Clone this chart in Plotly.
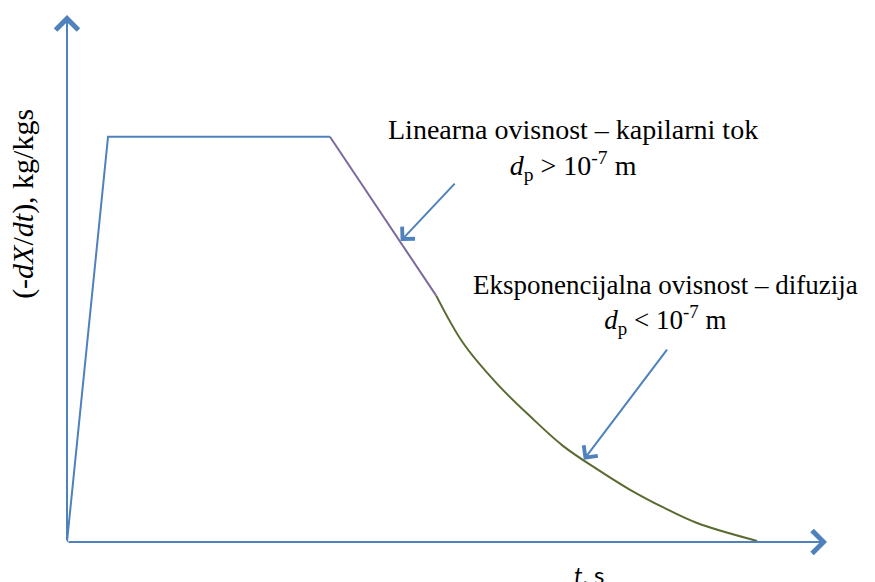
import plotly.graph_objects as go

# drying rate curve (arbitrary units)
t_const = [0.0, 0.54, 3.46]
rate_const = [0.0, 7.69, 7.69]

t_lin = [3.46, 4.86]
rate_lin = [7.69, 4.67]

t_exp = [4.86, 5.21, 5.66, 6.09, 6.53, 7.01, 7.41, 7.84, 8.29, 9.08]
rate_exp = [4.67, 3.78, 3.00, 2.39, 1.82, 1.35, 0.99, 0.66, 0.36, 0.02]

# pointer arrows: tail -> head
arrow_tails = [(5.12, 6.83), (7.91, 3.68)]
arrow_heads = [(4.39, 5.71), (6.80, 1.56)]

blue = "#4F81BD"
serif = "Liberation Serif, Times New Roman, serif"

fig = go.Figure()
fig.add_trace(go.Scatter(x=t_const, y=rate_const, mode="lines",
                         line=dict(color=blue, width=2)))
fig.add_trace(go.Scatter(x=t_lin, y=rate_lin, mode="lines",
                         line=dict(color="#7b6a9c", width=2)))
fig.add_trace(go.Scatter(x=t_exp, y=rate_exp, mode="lines",
                         line=dict(color="#5a6b32", width=2, shape="spline")))

# axes drawn as arrows
for tail, head in [((0, 0), (10, 0)), ((0, 0), (0, 10))]:
    fig.add_annotation(x=head[0], y=head[1], ax=tail[0], ay=tail[1],
                       xref="x", yref="y", axref="x", ayref="y",
                       text="", showarrow=True, arrowhead=4, arrowsize=2.2,
                       arrowwidth=2, arrowcolor=blue)

for tail, head in zip(arrow_tails, arrow_heads):
    fig.add_annotation(x=head[0], y=head[1], ax=tail[0], ay=tail[1],
                       xref="x", yref="y", axref="x", ayref="y",
                       text="", showarrow=True, arrowhead=4, arrowsize=1.7,
                       arrowwidth=2, arrowcolor=blue)

fig.add_annotation(x=6.66, y=7.44, xref="x", yref="y", showarrow=False,
                   text="Linearna ovisnost – kapilarni tok<br><i>d</i><sub>p</sub> &gt; 10<sup>-7</sup> m",
                   font=dict(family=serif, size=28, color="black"), align="center")
fig.add_annotation(x=7.88, y=4.50, xref="x", yref="y", showarrow=False,
                   text="Eksponencijalna ovisnost – difuzija<br><i>d</i><sub>p</sub> &lt; 10<sup>-7</sup> m",
                   font=dict(family=serif, size=27, color="black"), align="center")

fig.add_annotation(x=-0.057, y=0.641, xref="paper", yref="paper", showarrow=False,
                   xanchor="center", yanchor="middle",
                   text="(-<i>dX</i>/<i>dt</i>), kg/kgs", textangle=-90,
                   font=dict(family=serif, size=30, color="black"))
fig.add_annotation(x=0.687, y=-0.062, xref="paper", yref="paper", showarrow=False,
                   xanchor="center", yanchor="middle",
                   text="<i>t</i>, s",
                   font=dict(family="Lato, Open Sans, sans-serif", size=24, color="black"))

fig.update_xaxes(range=[0, 10], visible=False)
fig.update_yaxes(range=[0, 10], visible=False)
# page body adds an 8px offset, so the figure is kept 8px smaller
fig.update_layout(width=867, height=574, showlegend=False,
                  margin=dict(l=59, r=48, t=7, b=40, autoexpand=False),
                  plot_bgcolor="white", paper_bgcolor="white")

fig.write_html("out.html")
